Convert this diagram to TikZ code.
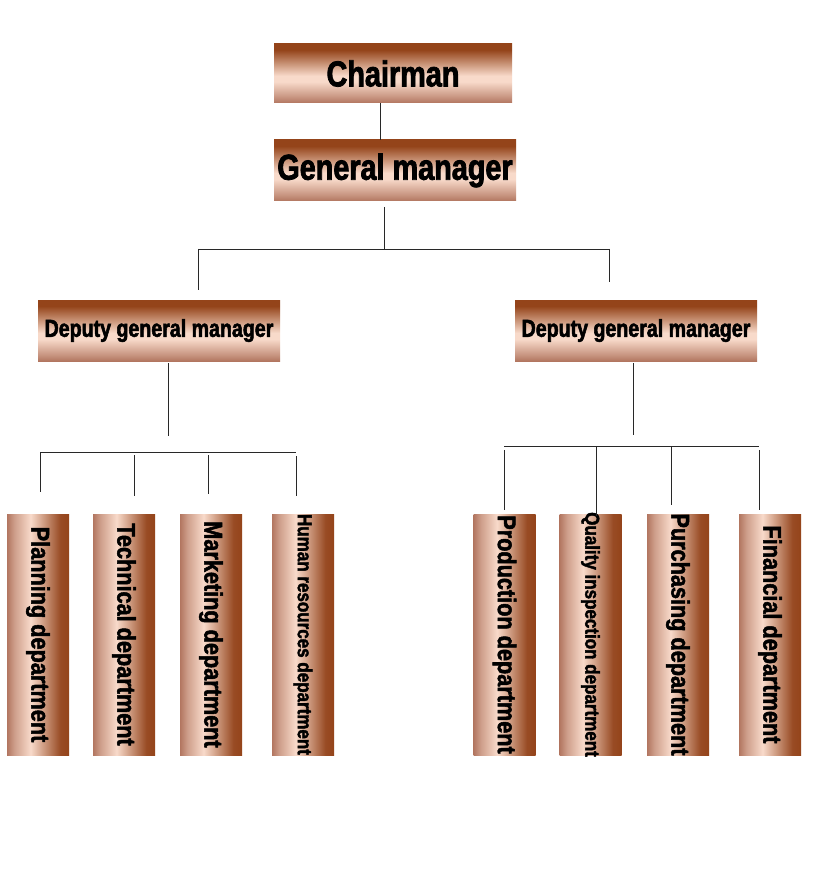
\documentclass[tikz,border=0pt]{standalone}
\usepackage{fontspec}
\usepackage{tikz}
\newfontfamily\orgfont[FakeStretch=0.85,BoldFeatures={FakeBold=2}]{Liberation Sans}
\newfontfamily\headfont[FakeStretch=0.8,BoldFeatures={FakeBold=2.2}]{Liberation Sans}

\definecolor{copperDark}{RGB}{148,68,26}
\definecolor{copperMid}{RGB}{178,118,96}
\definecolor{copperLight}{RGB}{248,218,202}
\definecolor{linkgray}{RGB}{40,40,40}

\pgfdeclareverticalshading{copperv}{100bp}{color(0bp)=(copperMid); color(25bp)=(copperMid); color(30bp)=(copperMid!70!copperLight); color(43bp)=(copperLight); color(48bp)=(copperLight); color(70bp)=(copperDark); color(75bp)=(copperDark); color(100bp)=(copperDark)}
\pgfdeclarehorizontalshading{copperh}{100bp}{color(0bp)=(copperMid); color(25bp)=(copperMid); color(31bp)=(copperMid!60!copperLight); color(44bp)=(copperLight); color(68bp)=(copperDark!85!copperMid); color(75bp)=(copperDark); color(100bp)=(copperDark)}

\tikzset{
  headbox/.style={rectangle, shading=copperv, font=\headfont\bfseries\fontsize{36}{36}\selectfont},
  deputybox/.style={rectangle, shading=copperv, minimum width=242pt, minimum height=61pt,
    font=\headfont\bfseries\fontsize{24.5}{24.5}\selectfont},
  deptbox/.style={rectangle, shading=copperh, minimum width=62pt, minimum height=241pt},
  depttext/.style={rotate=-90, font=\orgfont\bfseries\fontsize{25.5}{26}\selectfont},
  smalltext/.style={rotate=-90, font=\orgfont\bfseries\fontsize{20}{20}\selectfont},
  link/.style={draw=linkgray, line width=0.9pt}
}

\begin{document}
\begin{tikzpicture}[x=1pt,y=-1pt]
\tikzstyle{every node}+=[inner sep=0pt]
\fill [white] (0,0) rectangle (827,890);
\useasboundingbox (0,0) rectangle (827,890);
% top of the chart
\node [headbox, minimum width=238pt, minimum height=59pt] (chair) at (393,73.5) {Chairman};
\node [headbox, minimum width=242pt, minimum height=61pt] (gm) at (395,170.5) {General manager};
\node [deputybox] (dgmL) at (159,330.5) {Deputy general manager};
\node [deputybox] (dgmR) at (636,330.5) {Deputy general manager};
% departments
\node [deptbox] (plan) at (38,634.5) {};
\node [depttext] (plantext) at (plan) {Planning department};
\node [deptbox] (tech) at (124,634.5) {};
\node [depttext] (techtext) at (tech) {Technical department};
\node [deptbox] (mark) at (211,634.5) {};
\node [depttext] (marktext) at (mark) {Marketing department};
\node [deptbox] (hr) at (303,634.5) {};
\node [smalltext] (hrtext) at (hr) {Human resources department};
\node [deptbox] (prod) at (504.5,634.5) {};
\node [depttext] (prodtext) at (prod) {Production department};
\node [deptbox] (qual) at (590.5,634.5) {};
\node [smalltext] (qualtext) at (qual) {Quality inspection department};
\node [deptbox] (purch) at (678,634.5) {};
\node [depttext] (purchtext) at (purch) {Purchasing department};
\node [deptbox] (fin) at (770,634.5) {};
\node [depttext] (fintext) at (fin) {Financial department};
% junction points
\coordinate (c1) at (380,103);
\coordinate (c2) at (380,140);
\coordinate (g1) at (384,207);
\coordinate (g2) at (384,249);
\coordinate (busL) at (198,249);
\coordinate (busR) at (609,249);
\coordinate (dropL) at (198,290);
\coordinate (dropR) at (609,282);
\coordinate (l1) at (168,363);
\coordinate (l2) at (168,436);
\coordinate (lbusA) at (40,452);
\coordinate (lbusB) at (296,452);
\coordinate (r1) at (633,363);
\coordinate (r2) at (633,435);
\coordinate (rbusA) at (504,446);
\coordinate (rbusB) at (759,446);
% connectors
\draw [link] (c1) -- (c2);
\draw [link] (g1) -- (g2);
\draw [link] (busL) -- (busR);
\draw [link] (busL) -- (dropL);
\draw [link] (busR) -- (dropR);
\draw [link] (l1) -- (l2);
\draw [link] (lbusA) -- (lbusB);
\draw [link] (lbusA) -- (40,492);
\draw [link] (134,455) -- (134,496);
\draw [link] (208,455) -- (208,494);
\draw [link] (296,456) -- (296,496);
\draw [link] (r1) -- (r2);
\draw [link] (rbusA) -- (rbusB);
\draw [link] (504,450) -- (504,510);
\draw [link] (596,446) -- (596,516);
\draw [link] (671,446) -- (671,505);
\draw [link] (759,450) -- (759,510);
\end{tikzpicture}
\end{document}
